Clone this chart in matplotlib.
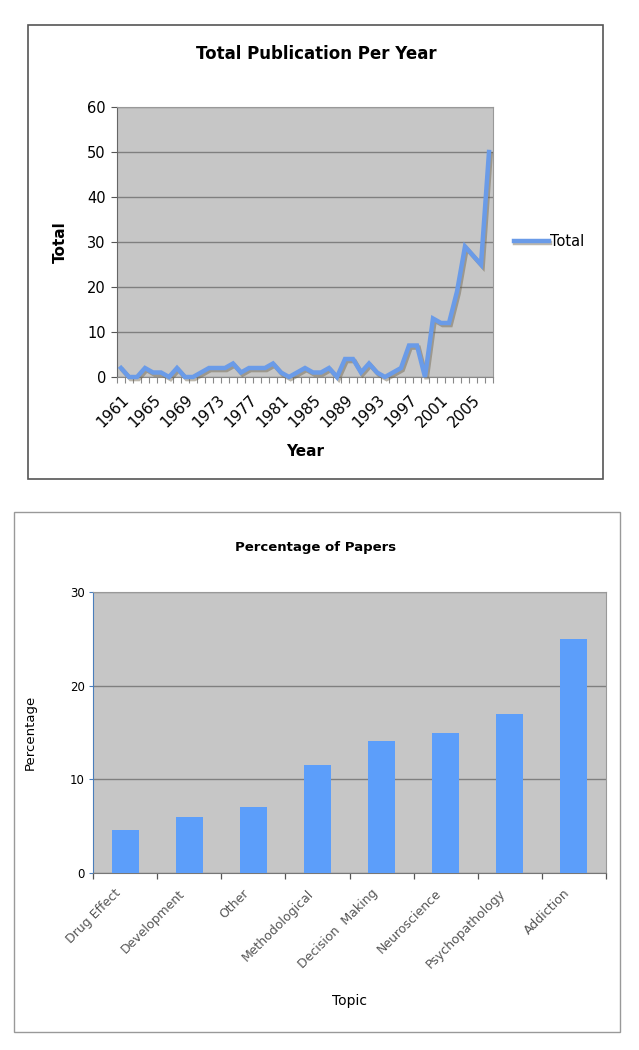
import matplotlib
matplotlib.use("Agg")
import matplotlib.pyplot as plt
import matplotlib.patheffects as pe
import matplotlib.transforms as mtransforms
from matplotlib.patches import Rectangle
import numpy as np

# ---- data: total publications per year ----
years = list(range(1961, 2008))
totals = [2, 0, 0, 2, 1, 1, 0, 2, 0, 0, 1, 2, 2, 2, 3, 1, 2, 2, 2, 3, 1, 0, 1,
          2, 1, 1, 2, 0, 4, 4, 1, 3, 1, 0, 1, 2, 7, 7, 0, 13, 12, 12, 19, 29, 27, 25, 50]
year_tick_labels = [str(y) for y in range(1961, 2008, 4)]

# ---- data: percentage of papers by topic ----
topics = ["Drug Effect", "Development", "Other", "Methodological",
          "Decision  Making", "Neuroscience", "Psychopathology", "Addiction"]
percentages = [4.6, 6.0, 7.0, 11.5, 14.1, 15.0, 17.0, 25.0]

W, H = 639, 1050
fig = plt.figure(figsize=(W / 100, H / 100), dpi=100)
fig.patch.set_facecolor("white")


def fx(x):
    return x / W


def fy(y):
    return 1 - y / H


# outer boxes
fig.add_artist(Rectangle((fx(28), fy(479)), fx(603) - fx(28), fy(25) - fy(479),
                         transform=fig.transFigure, fill=False, ec="#555555", lw=1.2))
fig.add_artist(Rectangle((fx(14), fy(1032)), fx(620) - fx(14), fy(512) - fy(1032),
                         transform=fig.transFigure, fill=False, ec="#999999", lw=1.0))

plot_bg = "#C6C6C6"
grid_c = "#7F7F7F"

# ---------------- top chart ----------------
ax1 = fig.add_axes([fx(117), fy(377), fx(493) - fx(117), fy(107) - fy(377)])
ax1.set_facecolor(plot_bg)
x = np.arange(len(years))
ax1.plot(x, totals, color="#6A9BE8", lw=3.2, solid_joinstyle="miter",
         path_effects=[pe.SimpleLineShadow(offset=(1.2, -1.5), shadow_color="#6b6048", alpha=0.45),
                       pe.Normal()], label="Total", zorder=3, clip_on=False)
ax1.set_yticks(range(0, 61, 10))
ax1.set_yticklabels([str(v) for v in range(0, 61, 10)], fontsize=10.5)
ax1.yaxis.grid(True, color=grid_c, lw=1.0)
ax1.set_axisbelow(True)
ax1.set_xticks(np.arange(0, len(years), 4))
ax1.set_xticklabels(year_tick_labels, rotation=45, ha="right", rotation_mode="anchor", fontsize=11)
ax1.set_xticks(np.arange(-0.5, len(years), 1), minor=True)
ax1.set_xlim(-0.5, len(years) - 0.5)
ax1.set_ylim(0, 60)
shift = mtransforms.ScaledTranslation(-10 / 100, 0, fig.dpi_scale_trans)
for lab in ax1.get_xticklabels():
    lab.set_transform(lab.get_transform() + shift)
ax1.tick_params(axis="x", which="major", length=0, pad=11)
ax1.tick_params(axis="x", which="minor", length=4, color="#888888", width=0.8)
ax1.tick_params(axis="y", length=4, color="#555555", pad=4)
for s in ["top", "right"]:
    ax1.spines[s].set_color("#999999")
    ax1.spines[s].set_linewidth(0.8)
ax1.spines["left"].set_color("#666666")
ax1.spines["bottom"].set_color("#888888")
ax1.set_xlabel("Year", fontsize=11, fontweight="bold", labelpad=10)
ax1.set_ylabel("Total", fontsize=11, fontweight="bold", labelpad=14)
fig.text(fx(316), fy(54), "Total Publication Per Year", ha="center", va="center",
         fontsize=12, fontweight="bold")
ax1.legend(loc="center left", bbox_to_anchor=(1.02, 0.5), frameon=False, fontsize=10.5,
           handlelength=2.4, handletextpad=0.1)

# ---------------- bottom chart ----------------
ax2 = fig.add_axes([fx(93), fy(873), fx(606) - fx(93), fy(592) - fy(873)])
ax2.set_facecolor(plot_bg)
xb = np.arange(len(topics))
ax2.bar(xb, percentages, width=0.42, color="#5C9EFA", zorder=3)
ax2.set_yticks([0, 10, 20, 30])
ax2.set_yticklabels(["0", "10", "20", "30"], fontsize=8.5)
ax2.yaxis.grid(True, color=grid_c, lw=1.0)
ax2.set_axisbelow(True)
ax2.set_xticks(xb - 0.17)
ax2.set_xticklabels(topics, rotation=45, ha="right", rotation_mode="anchor",
                    fontsize=9, color="#555555")
ax2.set_xticks(np.arange(-0.5, len(topics), 1), minor=True)
ax2.set_xlim(-0.5, len(topics) - 0.5)
ax2.set_ylim(0, 30)
ax2.tick_params(axis="x", which="major", length=0, pad=10)
ax2.tick_params(axis="x", which="minor", length=4, color="#555555", width=0.9)
ax2.tick_params(axis="y", length=3, color="#4a7ebb", pad=3)
for s in ["top", "right"]:
    ax2.spines[s].set_color("#999999")
    ax2.spines[s].set_linewidth(0.8)
ax2.spines["left"].set_color("#4a7ebb")
ax2.spines["bottom"].set_color("#777777")
ax2.set_xlabel("Topic", fontsize=10, labelpad=16)
ax2.set_ylabel("Percentage", fontsize=9.5, labelpad=24)
fig.text(fx(316), fy(547), "Percentage of Papers", ha="center", va="center",
         fontsize=9.5, fontweight="bold")

fig.savefig("out.png", dpi=100)
